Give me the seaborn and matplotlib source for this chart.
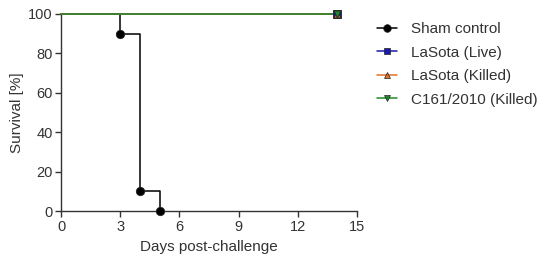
import pandas as pd
import seaborn as sns
import matplotlib.pyplot as plt
from matplotlib.lines import Line2D

# Survival data (Kaplan-Meier steps)
sham_days = [0, 3, 4, 5]
sham_survival = [100, 90, 10, 0]
sham_event_days = [3, 4, 5]
sham_event_survival = [90, 10, 0]

vaccine_days = [0, 14]
vaccine_survival = [100, 100]
vaccine_end_day = [14]
vaccine_end_survival = [100]

groups = ['Sham control', 'LaSota (Live)', 'LaSota (Killed)', 'C161/2010 (Killed)']
colors = ['#000000', '#1a1aa8', '#e0702a', '#1f8a2a']
markers = ['o', 's', '^', 'v']

x_ticks = [0, 3, 6, 9, 12, 15]
y_ticks = [0, 20, 40, 60, 80, 100]

sns.set_style('ticks')
plt.rcParams['font.family'] = ['Liberation Sans', 'DejaVu Sans']
plt.rcParams['text.color'] = '#333333'
plt.rcParams['axes.labelcolor'] = '#333333'
plt.rcParams['xtick.color'] = '#333333'
plt.rcParams['ytick.color'] = '#333333'

fig = plt.figure(figsize=(5.5, 2.64), dpi=100)
ax = fig.add_axes([0.111, 0.2, 0.538, 0.747])

for i, name in enumerate(groups):
    if i == 0:
        line_df = pd.DataFrame({'day': sham_days, 'surv': sham_survival})
        pt_df = pd.DataFrame({'day': sham_event_days, 'surv': sham_event_survival})
    else:
        line_df = pd.DataFrame({'day': vaccine_days, 'surv': vaccine_survival})
        pt_df = pd.DataFrame({'day': vaccine_end_day, 'surv': vaccine_end_survival})
    sns.lineplot(data=line_df, x='day', y='surv', ax=ax, color=colors[i],
                 drawstyle='steps-post', linewidth=1.1, sort=False,
                 estimator=None, zorder=2 + i)
    sns.scatterplot(data=pt_df, x='day', y='surv', ax=ax, color=colors[i],
                    marker=markers[i], s=36 if i == 0 else 26,
                    edgecolor='#222222', linewidth=0.6, zorder=10 + i,
                    clip_on=False)

ax.set_xlim(0, 15)
ax.set_ylim(0, 100)
ax.set_xticks(x_ticks)
ax.set_yticks(y_ticks)
ax.tick_params(labelsize=10.5, length=4, width=1, pad=2)
ax.set_xlabel('Days post-challenge', fontsize=11, labelpad=5)
ax.set_ylabel('Survival [%]', fontsize=11, labelpad=3)
for side in ['left', 'bottom']:
    ax.spines[side].set_linewidth(1)
    ax.spines[side].set_color('#333333')
sns.despine(ax=ax)
for line in ax.lines:
    line.set_clip_on(False)

handles = [Line2D([], [], color=c, marker=m, markersize=5.5 if m == 'o' else 5,
                  markeredgecolor='#222222', markeredgewidth=0.5, linewidth=1.1)
           for c, m in zip(colors, markers)]
fig.legend(handles, groups, loc='upper left', bbox_to_anchor=(0.672, 0.945),
           frameon=False, fontsize=11, handlelength=1.3, handletextpad=0.9,
           labelspacing=0.62, borderpad=0)

fig.savefig('out.png', dpi=100)
